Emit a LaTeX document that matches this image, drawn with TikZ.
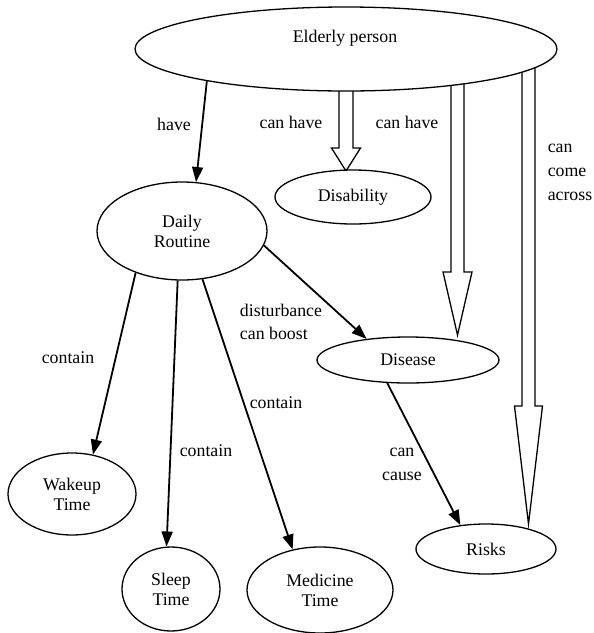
\documentclass[tikz,border=0pt]{standalone}
\usepackage{fontspec}
\setmainfont{Liberation Serif}
\usetikzlibrary{arrows.meta,shapes.geometric}

\tikzset{
  oval/.style={ellipse, draw, line width=1.3pt, fill=white, inner sep=0pt,
               align=center, font=\fontsize{17.8}{20}\selectfont},
  rel/.style={line width=1.8pt, -{Triangle[length=15pt,width=11pt]}},
  lbl/.style={font=\fontsize{17.8}{20}\selectfont, inner sep=0pt},
  block/.style={draw, line width=1.3pt, fill=white, line join=miter}
}

% hollow block arrow: x, top y, head base y, tip y, half shaft, half head
\newcommand{\blockarrow}[6]{%
  \draw[block] (#1-#5,#2) -- (#1-#5,#3) -- (#1-#6,#3) -- (#1,#4)
    -- (#1+#6,#3) -- (#1+#5,#3) -- (#1+#5,#2);}

\begin{document}
\begin{tikzpicture}[x=1pt,y=-1pt]
\useasboundingbox (0,0) rectangle (594,633);

% block arrows sit behind the top ellipse
\blockarrow{346}{60}{148}{171}{7}{14.5}
\blockarrow{457.5}{60}{272}{335}{6.5}{14.5}
\blockarrow{528.5}{60}{406}{524}{6.5}{14}

% nodes
\node[oval, minimum width=422pt, minimum height=84pt] (EP) at (346,49) {};
\node[lbl] (EPtxt) at (345,38) {Elderly person};
\node[oval, minimum width=170pt, minimum height=98pt] (DR) at (182,231) {Daily\\Routine};
\node[oval, minimum width=156pt, minimum height=54pt] (DIS) at (353,197) {Disability};
\node[oval, minimum width=182pt, minimum height=46pt] (DSE) at (408,360) {Disease};
\node[oval, minimum width=140pt, minimum height=50pt] (RSK) at (486,549) {Risks};
\node[oval, minimum width=128pt, minimum height=82pt] (WT) at (72,494) {Wakeup\\Time};
\node[oval, minimum width=98pt, minimum height=84pt] (ST) at (171,589) {Sleep\\Time};
\node[oval, minimum width=146pt, minimum height=86pt] (MT) at (320,590) {Medicine\\Time};

% relations
\draw[rel] (EP.193.7) -- (DR.74);
\draw[rel] (DR.222) -- (WT.62.4);
\draw[rel] (DR.265.3) -- (ST.96.6);
\draw[rel] (DR.293) -- (MT.124.9);
\draw[rel] (DR.350.3) -- (DSE.153);
\draw[rel] (DSE.228) -- (RSK.137);

% relation labels
\node[lbl] (l1) at (174,124) {have};
\node[lbl] (l2) at (291,122) {can have};
\node[lbl] (l3) at (407,122) {can have};
\node[lbl, align=left, font=\fontsize{17.8}{24}\selectfont] (l4) at (570,172) {can\\come\\across};
\node[lbl] (l5) at (68,358) {contain};
\node[lbl] (l6) at (206,451) {contain};
\node[lbl] (l7) at (276,403) {contain};
\node[lbl, align=left, font=\fontsize{17.8}{23}\selectfont] (l8) at (281,322) {disturbance\\can boost};
\node[lbl, align=center, font=\fontsize{17.8}{24}\selectfont] (l9) at (402,464) {can\\cause};
\end{tikzpicture}
\end{document}
